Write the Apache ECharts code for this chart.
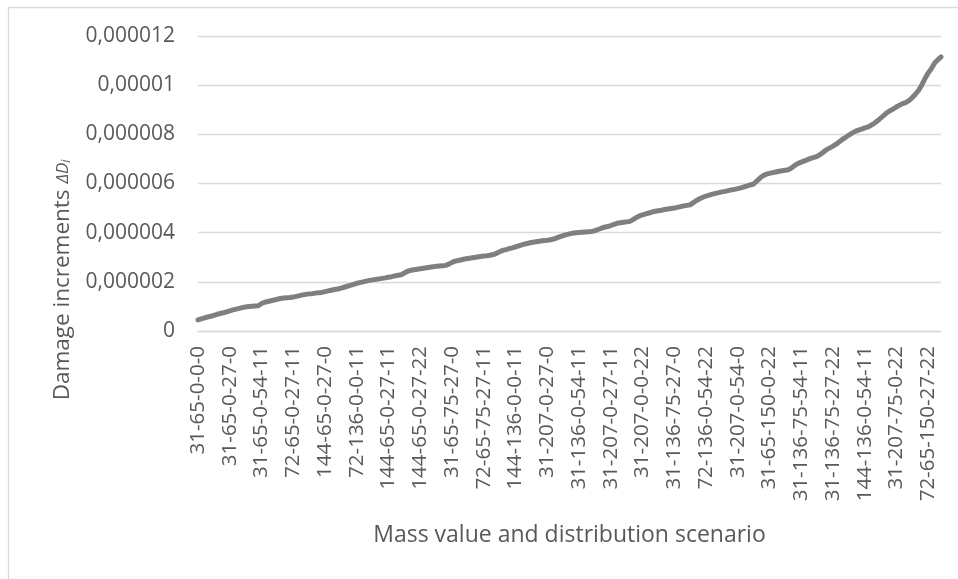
<!DOCTYPE html>
<html>
<head>
<meta charset="utf-8">
<script src="https://cdn.jsdelivr.net/npm/echarts@6/dist/echarts.min.js"></script>
<style>
  html, body { margin: 0; padding: 0; background: #ffffff; }
  #chart { width: 958px; height: 579px; }
</style>
</head>
<body>
<div id="chart"></div>
<script>
// Scenario labels shown on the category axis (every tenth scenario)
const tickLabels = [
  '31-65-0-0-0', '31-65-0-27-0', '31-65-0-54-11', '72-65-0-27-11',
  '144-65-0-27-0', '72-136-0-0-11', '144-65-0-27-11', '144-65-0-27-22',
  '31-65-75-27-0', '72-65-75-27-11', '144-136-0-0-11', '31-207-0-27-0',
  '31-136-0-54-11', '31-207-0-27-11', '31-207-0-0-22', '31-136-75-27-0',
  '72-136-0-54-22', '31-207-0-54-0', '31-65-150-0-22', '31-136-75-54-11',
  '31-136-75-27-22', '144-136-0-54-11', '31-207-75-0-22', '72-65-150-27-22'
];

// Damage increments ΔDi per scenario, sorted ascending
const damageIncrements = [
  0.45e-6, 0.49e-6, 0.53e-6, 0.57e-6, 0.60e-6, 0.64e-6, 0.68e-6, 0.71e-6, 0.74e-6, 0.78e-6,
  0.82e-6, 0.86e-6, 0.89e-6, 0.92e-6, 0.95e-6, 0.98e-6, 1.00e-6, 1.01e-6, 1.02e-6, 1.03e-6,
  1.12e-6, 1.17e-6, 1.20e-6, 1.23e-6, 1.26e-6, 1.29e-6, 1.32e-6, 1.34e-6, 1.35e-6, 1.36e-6,
  1.38e-6, 1.41e-6, 1.44e-6, 1.47e-6, 1.49e-6, 1.51e-6, 1.52e-6, 1.54e-6, 1.56e-6, 1.57e-6,
  1.60e-6, 1.63e-6, 1.66e-6, 1.69e-6, 1.71e-6, 1.74e-6, 1.78e-6, 1.82e-6, 1.86e-6, 1.90e-6,
  1.94e-6, 1.97e-6, 2.00e-6, 2.03e-6, 2.06e-6, 2.08e-6, 2.10e-6, 2.12e-6, 2.14e-6, 2.16e-6,
  2.19e-6, 2.21e-6, 2.24e-6, 2.27e-6, 2.29e-6, 2.36e-6, 2.43e-6, 2.47e-6, 2.49e-6, 2.51e-6,
  2.53e-6, 2.55e-6, 2.57e-6, 2.59e-6, 2.61e-6, 2.63e-6, 2.64e-6, 2.65e-6, 2.67e-6, 2.72e-6,
  2.79e-6, 2.84e-6, 2.87e-6, 2.90e-6, 2.93e-6, 2.95e-6, 2.97e-6, 2.99e-6, 3.01e-6, 3.03e-6,
  3.05e-6, 3.06e-6, 3.08e-6, 3.11e-6, 3.16e-6, 3.22e-6, 3.28e-6, 3.31e-6, 3.35e-6, 3.38e-6,
  3.42e-6, 3.46e-6, 3.50e-6, 3.54e-6, 3.57e-6, 3.60e-6, 3.62e-6, 3.64e-6, 3.66e-6, 3.68e-6,
  3.69e-6, 3.71e-6, 3.74e-6, 3.79e-6, 3.84e-6, 3.88e-6, 3.92e-6, 3.95e-6, 3.98e-6, 4.00e-6,
  4.01e-6, 4.02e-6, 4.03e-6, 4.04e-6, 4.05e-6, 4.08e-6, 4.13e-6, 4.18e-6, 4.22e-6, 4.25e-6,
  4.29e-6, 4.34e-6, 4.38e-6, 4.40e-6, 4.42e-6, 4.44e-6, 4.46e-6, 4.53e-6, 4.61e-6, 4.68e-6,
  4.72e-6, 4.76e-6, 4.80e-6, 4.84e-6, 4.87e-6, 4.89e-6, 4.91e-6, 4.94e-6, 4.96e-6, 4.98e-6,
  5.00e-6, 5.03e-6, 5.06e-6, 5.09e-6, 5.11e-6, 5.13e-6, 5.22e-6, 5.31e-6, 5.38e-6, 5.44e-6,
  5.49e-6, 5.53e-6, 5.57e-6, 5.60e-6, 5.63e-6, 5.66e-6, 5.68e-6, 5.71e-6, 5.74e-6, 5.76e-6,
  5.79e-6, 5.82e-6, 5.86e-6, 5.90e-6, 5.94e-6, 5.98e-6, 6.10e-6, 6.22e-6, 6.32e-6, 6.38e-6,
  6.41e-6, 6.44e-6, 6.47e-6, 6.50e-6, 6.52e-6, 6.54e-6, 6.56e-6, 6.64e-6, 6.74e-6, 6.82e-6,
  6.87e-6, 6.92e-6, 6.97e-6, 7.02e-6, 7.06e-6, 7.10e-6, 7.18e-6, 7.28e-6, 7.38e-6, 7.45e-6,
  7.52e-6, 7.60e-6, 7.70e-6, 7.80e-6, 7.88e-6, 7.97e-6, 8.05e-6, 8.12e-6, 8.17e-6, 8.21e-6,
  8.26e-6, 8.30e-6, 8.37e-6, 8.45e-6, 8.55e-6, 8.66e-6, 8.77e-6, 8.88e-6, 8.96e-6, 9.04e-6,
  9.12e-6, 9.19e-6, 9.25e-6, 9.30e-6, 9.38e-6, 9.50e-6, 9.64e-6, 9.80e-6, 10.02e-6, 10.28e-6,
  10.50e-6, 10.68e-6, 10.90e-6, 11.03e-6, 11.15e-6
];

const labelStep = 10;

// Category list: one entry per scenario, named where the axis shows a label
const categories = damageIncrements.map((_, i) =>
  i % labelStep === 0 && tickLabels[i / labelStep] ? tickLabels[i / labelStep] : ''
);

const textColor = '#595959';
const gridColor = '#d9d9d9';
const fontFamily = '"Open Sans", "Liberation Sans", sans-serif';

const chart = echarts.init(document.getElementById('chart'), null, { renderer: 'canvas' });

chart.setOption({
  backgroundColor: '#ffffff',
  animation: false,
  grid: { left: 198, right: 17, top: 36, bottom: 248, containLabel: false },
  xAxis: {
    type: 'category',
    data: categories,
    boundaryGap: false,
    name: 'Mass value and distribution scenario',
    nameLocation: 'middle',
    nameGap: 204,
    nameTextStyle: { color: textColor, fontSize: 23, fontFamily: fontFamily, verticalAlign: 'middle' },
    axisLine: { show: true, lineStyle: { color: gridColor, width: 1.3 } },
    axisTick: { show: false },
    axisLabel: {
      interval: labelStep - 1,
      rotate: 90,
      margin: 15,
      color: textColor,
      fontSize: 20.5,
      fontFamily: fontFamily
    },
    splitLine: { show: false }
  },
  yAxis: {
    type: 'value',
    min: 0,
    max: 0.000012,
    interval: 0.000002,
    axisLine: { show: false },
    axisTick: { show: false },
    axisLabel: {
      margin: 23,
      color: textColor,
      fontSize: 21,
      fontFamily: fontFamily,
      formatter: v => v === 0 ? '0' : String(+v.toFixed(6)).replace('.', ',')
    },
    splitLine: { show: true, lineStyle: { color: gridColor, width: 1.3 } }
  },
  series: [{
    type: 'line',
    data: damageIncrements,
    showSymbol: false,
    smooth: false,
    lineStyle: { color: '#7f7f7f', width: 5, cap: 'round', join: 'round' }
  }],
  graphic: [
    {
      type: 'rect',
      shape: { x: 8.5, y: 7.5, width: 1000, height: 1000 },
      style: { fill: 'none', stroke: gridColor, lineWidth: 1.3 },
      silent: true
    },
    {
      type: 'text',
      x: 63,
      y: 280,
      rotation: Math.PI / 2,
      style: {
        text: '{a|Damage increments }{b|ΔD}{c|i}',
        align: 'center',
        verticalAlign: 'middle',
        rich: {
          a: { fontSize: 22.5, fontFamily: fontFamily, fill: textColor },
          b: { fontSize: 17, fontStyle: 'italic', fontFamily: fontFamily, fill: textColor },
          c: { fontSize: 12, fontStyle: 'italic', fontFamily: fontFamily, fill: textColor, padding: [7, 0, 0, 0] }
        }
      }
    }
  ]
});
</script>
</body>
</html>
